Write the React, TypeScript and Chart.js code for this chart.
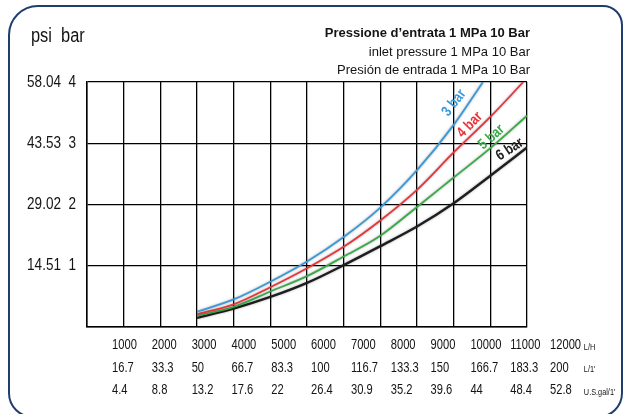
import React, { useEffect, useRef } from "react";
import { Chart, registerables } from "chart.js";

Chart.register(...registerables);

const FONT = '"Liberation Sans", Arial, Helvetica, sans-serif';
const NARROW = 0.82; // horizontal squeeze to imitate a narrow Helvetica
const NARROW_X = 0.77;

// X axis rows (flow)
const flowLH = [1000, 2000, 3000, 4000, 5000, 6000, 7000, 8000, 9000, 10000, 11000, 12000];
const flowLmin = ["16.7", "33.3", "50", "66.7", "83.3", "100", "116.7", "133.3", "150", "166.7", "183.3", "200"];
const flowGal = ["4.4", "8.8", "13.2", "17.6", "22", "26.4", "30.9", "35.2", "39.6", "44", "48.4", "52.8"];
const unitLabels = ["L/H", "L/1'", "U.S.gal/1'"];

// Y axis (pressure drop)
const barTicks = [0, 1, 2, 3, 4];
const psiTicks = ["", "14.51", "29.02", "43.53", "58.04"];

// Series: pressure drop (bar) vs flow (L/H) for inlet pressures 3,4,5,6 bar
const seriesNames = ["3 bar", "4 bar", "5 bar", "6 bar"];
const seriesColors = ["#3b99d8", "#e8353b", "#3aa948", "#1e1e1e"];

const flow3 = [3000, 4000, 5000, 6000, 7000, 8000, 9000, 10000, 10800];
const drop3 = [0.25, 0.45, 0.74, 1.07, 1.47, 1.95, 2.56, 3.3, 4.0];
const flow4 = [3000, 4000, 5000, 6000, 7000, 8000, 9000, 10000, 11000, 11900];
const drop4 = [0.21, 0.37, 0.65, 0.96, 1.31, 1.74, 2.24, 2.85, 3.43, 4.0];
const flow5 = [3000, 4000, 5000, 6000, 7000, 8000, 9000, 10000, 11000, 12000];
const drop5 = [0.18, 0.33, 0.58, 0.83, 1.15, 1.49, 1.96, 2.44, 2.92, 3.45];
const flow6 = [3000, 4000, 5000, 6000, 7000, 8000, 9000, 10000, 11000, 12000];
const drop6 = [0.15, 0.3, 0.49, 0.72, 1.01, 1.32, 1.64, 2.02, 2.47, 2.93];

// Curve label anchors (data coords) and angles
const labelFlow = [10010, 10440, 11030, 11530];
const labelDrop = [3.66, 3.3, 3.1, 2.9];
const labelAngle = [-52, -46, -42, -33];

const titleLines = ["Pressione d\u2019entrata 1 MPa 10 Bar", "inlet pressure 1 MPa 10 Bar", "Presi\u00f3n de entrada 1 MPa 10 Bar"];
const unitsHeader = "psi  bar";

const flows = [flow3, flow4, flow5, flow6];
const drops = [drop3, drop4, drop5, drop6];

// Draw an axis' tick labels (positions from Chart.js) with narrow glyphs
function narrowLabels(s: any, factor: number) {
  s.drawLabels = function (chartArea: any) {
    if (!this.options.ticks.display) return;
    const ctx = this.ctx;
    const items = this.getLabelItems(chartArea);
    for (const item of items) {
      const o = item.options;
      const [tx, ty] = o.translation;
      ctx.save();
      ctx.translate(tx, ty);
      ctx.scale(factor, 1);
      ctx.font = item.font.string;
      ctx.fillStyle = o.color;
      ctx.textAlign = o.textAlign;
      ctx.textBaseline = o.textBaseline;
      const lines = Array.isArray(item.label) ? item.label : [item.label];
      let y = item.textOffset + (item.font.size < 12 ? 2 : 0);
      for (const line of lines) {
        ctx.fillText(String(line), 0, y);
        y += item.font.lineHeight;
      }
      ctx.restore();
    }
  };
}

const shadowPlugin = {
  id: "lineShadow",
  beforeDatasetsDraw(chart: any) {
    const ctx = chart.ctx;
    ctx.save();
    ctx.shadowColor = "rgba(0,0,0,0.35)";
    ctx.shadowBlur = 2.5;
  },
  afterDatasetsDraw(chart: any) {
    chart.ctx.restore();
  },
};

const textPlugin = {
  id: "texts",
  afterDraw(chart: any) {
    const { ctx, chartArea, scales } = chart;
    const x = scales.x;
    const y = scales.y;
    ctx.save();
    ctx.fillStyle = "#141414";
    ctx.textBaseline = "middle";

    ctx.save();
    ctx.translate(31, 36);
    ctx.scale(NARROW, 1);
    ctx.textAlign = "left";
    ctx.font = `20px ${FONT}`;
    ctx.fillText(unitsHeader, 0, 0);
    ctx.restore();

    ctx.textAlign = "right";
    ctx.font = `bold 13px ${FONT}`;
    ctx.fillText(titleLines[0], chartArea.right + 3, 33);
    ctx.font = `13px ${FONT}`;
    ctx.fillText(titleLines[1], chartArea.right + 3, 52);
    ctx.fillText(titleLines[2], chartArea.right + 3, 70);

    ctx.textAlign = "center";
    ctx.font = `bold 15px ${FONT}`;
    for (let i = 0; i < seriesNames.length; i++) {
      const px = x.getPixelForValue(labelFlow[i]);
      const py = y.getPixelForValue(labelDrop[i]);
      ctx.save();
      ctx.translate(px, py);
      ctx.rotate((labelAngle[i] * Math.PI) / 180);
      ctx.scale(NARROW, 1);
      ctx.fillStyle = seriesColors[i];
      ctx.fillText(seriesNames[i], 0, 0);
      ctx.restore();
    }
    ctx.restore();
  },
};

export default function App() {
  const canvasRef = useRef<HTMLCanvasElement>(null);

  useEffect(() => {
    const canvas = canvasRef.current;
    if (!canvas) return;
    const chart = new Chart(canvas, {
      type: "line",
      data: {
        datasets: seriesNames.map((name, i) => ({
          label: name,
          xAxisID: "x",
          yAxisID: "y",
          data: flows[i].map((f, j) => ({ x: f, y: drops[i][j] })),
          borderColor: seriesColors[i],
          borderWidth: i === 3 ? 2.4 : 1.8,
          pointRadius: 0,
          fill: false,
          cubicInterpolationMode: "monotone" as const,
        })),
      },
      options: {
        responsive: false,
        animation: false,
        devicePixelRatio: 1,
        layout: { padding: { left: 0, right: 97, top: 82, bottom: 0 } },
        plugins: {
          legend: { display: false },
          tooltip: { enabled: false },
          title: { display: false },
        },
        scales: {
          x: {
            type: "linear",
            position: "bottom",
            min: 0,
            max: 12000,
            ticks: { display: false, stepSize: 1000 },
            grid: { color: "#000", lineWidth: 1.3, drawTicks: false },
            border: { color: "#000", width: 1.5 },
            afterFit(s: any) {
              s.height = 0;
              s.paddingLeft = 0;
              s.paddingRight = 0;
            },
          },
          xl: {
            type: "linear",
            position: "bottom",
            min: 372,
            max: 11422,
            grid: { display: false, drawTicks: false },
            border: { display: false },
            afterBuildTicks(s: any) {
              s.ticks = [...flowLH, 12850].map((v) => ({ value: v }));
            },
            ticks: {
              autoSkip: false,
              align: "start",
              maxRotation: 0,
              minRotation: 0,
              padding: 7,
              color: "#141414",
              font: (c: any) =>
                c.index === flowLH.length
                  ? { family: FONT, size: 9.5, lineHeight: "22.5px" }
                  : { family: FONT, size: 14.5, lineHeight: "22.5px" },
              callback: (_v: any, i: number) =>
                i < flowLH.length ? [String(flowLH[i]), flowLmin[i], flowGal[i]] : unitLabels,
            },
            afterFit(s: any) {
              s.height = 87;
              s.paddingLeft = 0;
              s.paddingRight = 0;
              narrowLabels(s, NARROW_X);
            },
          },
          y: {
            type: "linear",
            min: barTicks[0],
            max: barTicks[barTicks.length - 1],
            ticks: {
              stepSize: 1,
              padding: 11,
              color: "#141414",
              font: { family: FONT, size: 16.5 },
              callback: (v: any) => {
                const i = barTicks.indexOf(Number(v));
                return i <= 0 ? "" : `${psiTicks[i]}  ${v}`;
              },
            },
            grid: { color: "#000", lineWidth: 1.3, drawTicks: false },
            border: { color: "#000", width: 1.5 },
            afterFit(s: any) {
              s.width = 87;
              s.paddingTop = 0;
              s.paddingBottom = 0;
              narrowLabels(s, NARROW);
            },
          },
        },
      } as any,
      plugins: [shadowPlugin, textPlugin],
    });
    return () => chart.destroy();
  }, []);

  return (
    <div style={{ position: "fixed", left: 0, top: 0, width: 624, height: 414, overflow: "hidden", background: "#fff" }}>
      <canvas ref={canvasRef} width={624} height={414} style={{ display: "block", width: 624, height: 414 }} />
      <div
        style={{
          position: "absolute",
          left: 8,
          top: 5,
          width: 615,
          height: 413,
          boxSizing: "border-box",
          border: "2.6px solid #1f3d6f",
          borderRadius: "30px 20px 25px 25px",
          pointerEvents: "none",
        }}
      />
    </div>
  );
}
